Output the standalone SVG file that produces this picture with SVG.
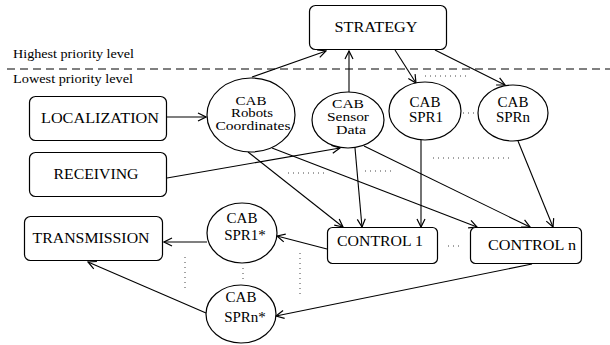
<svg xmlns="http://www.w3.org/2000/svg" width="610" height="345" viewBox="0 0 610 345">
<defs>
<marker id="arr" viewBox="0 0 10 10" refX="9" refY="5" markerWidth="10" markerHeight="10" markerUnits="userSpaceOnUse" orient="auto">
<path d="M1,1 L9,5 L1,9" fill="none" stroke="#000" stroke-width="1.2"/>
</marker>
<style>
.box{fill:#fff;stroke:#000;stroke-width:1.2}
.ell{fill:#fff;stroke:#000;stroke-width:1.2}
text{font-family:"Liberation Serif","Times New Roman",serif;fill:#000}
.bt{font-size:15px;text-anchor:middle}
.et{font-size:15px;text-anchor:middle}
.ec{font-size:13px;text-anchor:middle}
.es{font-size:11.5px;text-anchor:middle}
.lv{font-size:13.5px}
.c{fill:none;stroke:#000;stroke-width:1.1;marker-end:url(#arr)}
.dot{fill:none;stroke:#444;stroke-width:1;stroke-dasharray:1 4}
</style>
</defs>
<rect width="610" height="345" fill="#fff"/>
<g id="levels">
<line x1="7" y1="69" x2="610" y2="69" stroke="#808080" stroke-width="2" stroke-dasharray="8 5"/>
<text class="lv" x="13" y="58" textLength="121" lengthAdjust="spacingAndGlyphs">Highest priority level</text>
<text class="lv" x="13" y="83" textLength="120" lengthAdjust="spacingAndGlyphs">Lowest priority level</text>
</g>
<g id="connectors">
<line class="c" x1="167" y1="117" x2="206" y2="117"/>
<line class="c" x1="167" y1="178" x2="340" y2="148"/>
<line class="c" x1="252" y1="77" x2="326" y2="51"/>
<line class="c" x1="349" y1="92" x2="349" y2="51"/>
<line class="c" x1="395" y1="50" x2="416" y2="83"/>
<line class="c" x1="435" y1="50" x2="505" y2="85"/>
<line class="c" x1="248" y1="152" x2="343" y2="227"/>
<line class="c" x1="272" y1="148" x2="477" y2="227"/>
<line class="c" x1="355" y1="148" x2="362" y2="227"/>
<line class="c" x1="364" y1="146" x2="530" y2="227"/>
<line class="c" x1="421" y1="140" x2="421" y2="227"/>
<line class="c" x1="518" y1="141" x2="553" y2="227"/>
<line class="c" x1="327" y1="249" x2="277" y2="236"/>
<line class="c" x1="207" y1="242" x2="164" y2="242"/>
<line class="c" x1="206" y1="313" x2="88" y2="262"/>
<line class="c" x1="532" y1="264" x2="276" y2="316"/>
<line class="dot" x1="425" y1="76" x2="470" y2="76"/>
<line class="dot" x1="463" y1="113" x2="477" y2="113"/>
<line class="dot" x1="433" y1="158" x2="512" y2="158"/>
<line class="dot" x1="288" y1="173" x2="324" y2="173"/>
<line class="dot" x1="365" y1="171" x2="394" y2="171"/>
<line class="dot" x1="448" y1="246" x2="461" y2="246"/>
<line class="dot" x1="185" y1="257" x2="185" y2="288"/>
<line class="dot" x1="243" y1="268" x2="243" y2="283"/>
<line class="dot" x1="300" y1="253" x2="300" y2="298"/>
</g>
<g id="strategy">
<rect class="box" x="309.5" y="5.5" width="137" height="44" rx="6"/>
<text class="bt" x="376" y="32" textLength="83" lengthAdjust="spacingAndGlyphs">STRATEGY</text>
</g>
<g id="localization">
<rect class="box" x="29.5" y="96.5" width="137" height="44" rx="6"/>
<text class="bt" x="100" y="123" textLength="118" lengthAdjust="spacingAndGlyphs">LOCALIZATION</text>
</g>
<g id="receiving">
<rect class="box" x="29.5" y="152.5" width="137" height="44" rx="6"/>
<text class="bt" x="96" y="179" textLength="85" lengthAdjust="spacingAndGlyphs">RECEIVING</text>
</g>
<g id="transmission">
<rect class="box" x="24.5" y="216.5" width="138" height="44" rx="6"/>
<text class="bt" x="91" y="243" textLength="117" lengthAdjust="spacingAndGlyphs">TRANSMISSION</text>
</g>
<g id="control1">
<rect class="box" x="327.5" y="227.5" width="110" height="36" rx="5"/>
<text class="bt" x="380" y="246" textLength="86" lengthAdjust="spacingAndGlyphs">CONTROL 1</text>
</g>
<g id="controln">
<rect class="box" x="470.5" y="227.5" width="111" height="36" rx="5"/>
<text class="bt" x="532" y="250" textLength="88" lengthAdjust="spacingAndGlyphs">CONTROL n</text>
</g>
<g id="cab-robots">
<ellipse class="ell" cx="251" cy="115" rx="44" ry="37"/>
<text class="ec" x="251" y="104.5" textLength="31" lengthAdjust="spacingAndGlyphs">CAB</text>
<text class="es" x="252" y="117" textLength="42" lengthAdjust="spacingAndGlyphs">Robots</text>
<text class="es" x="253" y="129.5" textLength="75" lengthAdjust="spacingAndGlyphs">Coordinates</text>
</g>
<g id="cab-sensor">
<ellipse class="ell" cx="348" cy="120" rx="36" ry="28"/>
<text class="ec" x="348" y="107.5" textLength="32" lengthAdjust="spacingAndGlyphs">CAB</text>
<text class="es" x="348" y="120.5" textLength="42" lengthAdjust="spacingAndGlyphs">Sensor</text>
<text class="es" x="351" y="133.5" textLength="30" lengthAdjust="spacingAndGlyphs">Data</text>
</g>
<g id="cab-spr1">
<ellipse class="ell" cx="425" cy="111" rx="36" ry="29"/>
<text class="et" x="425" y="107">CAB</text>
<text class="et" x="426" y="122">SPR1</text>
</g>
<g id="cab-sprn">
<ellipse class="ell" cx="513" cy="113" rx="35" ry="28"/>
<text class="et" x="513" y="106.5">CAB</text>
<text class="et" x="513" y="121.5">SPRn</text>
</g>
<g id="cab-spr1s">
<ellipse class="ell" cx="242" cy="233" rx="35" ry="30"/>
<text class="et" x="242" y="223">CAB</text>
<text class="et" x="245" y="240">SPR1*</text>
</g>
<g id="cab-sprns">
<ellipse class="ell" cx="241" cy="314" rx="35" ry="29"/>
<text class="et" x="241" y="302">CAB</text>
<text class="et" x="245" y="322">SPRn*</text>
</g>
</svg>
